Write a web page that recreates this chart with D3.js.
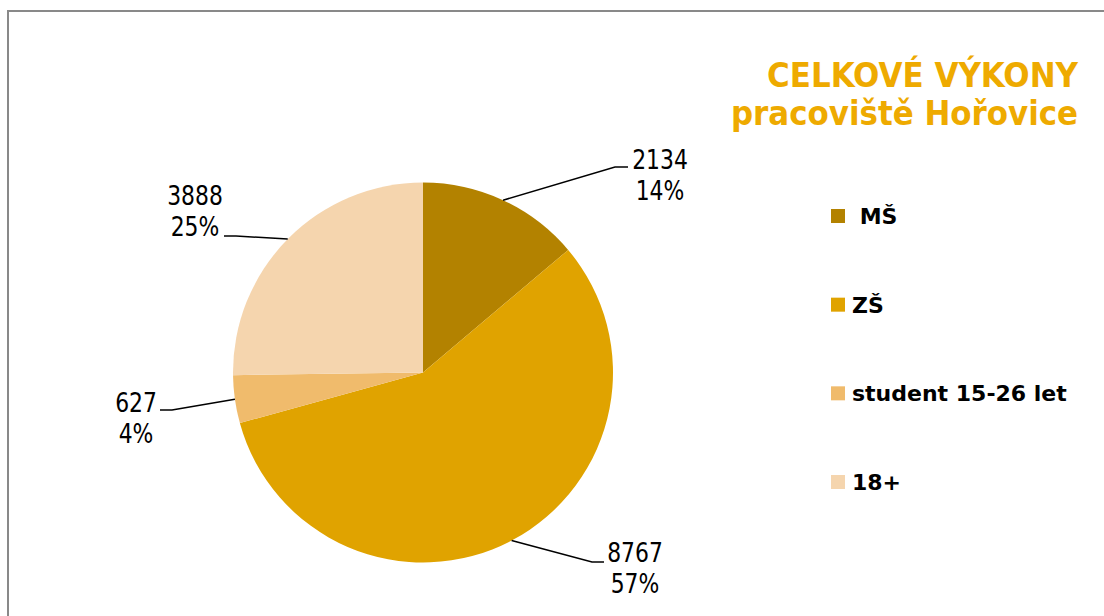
<!DOCTYPE html>
<html><head><meta charset="utf-8">
<script src="https://cdn.jsdelivr.net/npm/d3@7"></script>
<style>
html,body{margin:0;padding:0;background:#fff;overflow:hidden;}
svg{display:block;}
</style></head>
<body>
<svg id="chart" width="1104" height="616"></svg>
<script>
// ---- data ----
const categories = ["MŠ", "ZŠ", "student 15-26 let", "18+"];
const legendLabels = [" MŠ", "ZŠ", "student 15-26 let", "18+"];
const values = [2134, 8767, 627, 3888];
const colors = ["#B38200", "#E0A300", "#F0BB6C", "#F5D5AE"];
const titleLines = ["CELKOVÉ VÝKONY", "pracoviště Hořovice"];

// ---- label layout (elbow, tail, text centre) ----
const labelLayout = [
  {ex:615, ey:167, tx:628, ty:167, cx:660, by:169},
  {ex:592, ey:562, tx:604, ty:562, cx:635, by:562},
  {ex:172, ey:410, tx:160, ty:410, cx:136, by:412},
  {ex:236, ey:236, tx:224, ty:236, cx:195, by:205}
];

const svg = d3.select("#chart");

// frame
svg.append("rect").attr("x", 8).attr("y", 11).attr("width", 1200).attr("height", 700)
  .attr("fill", "none").attr("stroke", "#898989").attr("stroke-width", 2);

const cx = 423, cy = 372.5, R = 190;
const total = d3.sum(values);
const data = categories.map((c, i) => ({cat: c, value: values[i], color: colors[i], i}));

const pie = d3.pie().value(d => d.value).sort(null);
const arcs = pie(data);
const arc = d3.arc().innerRadius(0).outerRadius(R);

const g = svg.append("g").attr("transform", `translate(${cx},${cy})`);
g.selectAll("path.slice").data(arcs).join("path")
  .attr("class", "slice")
  .attr("d", arc)
  .attr("fill", d => d.data.color);

// leader lines and labels
const fmtPct = d3.format(".0%");
arcs.forEach((a, i) => {
  const mid = (a.startAngle + a.endAngle) / 2;
  const sx = cx + R * Math.sin(mid), sy = cy - R * Math.cos(mid);
  const L = labelLayout[i];
  svg.append("polyline")
    .attr("points", `${sx},${sy} ${L.ex},${L.ey} ${L.tx},${L.ty}`)
    .attr("fill", "none").attr("stroke", "#000").attr("stroke-width", 1.5);
  [String(a.data.value), fmtPct(a.data.value / total)].forEach((s, k) => {
    const t = svg.append("text")
      .attr("x", L.cx).attr("y", L.by + k * 31)
      .attr("text-anchor", "middle")
      .attr("font-family", "'DejaVu Sans Condensed', 'DejaVu Sans', sans-serif")
      .attr("font-stretch", "condensed")
      .attr("font-size", 27)
      .attr("fill", "#000")
      .text(s);
    const w = t.node().getComputedTextLength();
    t.attr("textLength", w * 0.9).attr("lengthAdjust", "spacingAndGlyphs");
  });
});

// title
const titleW = [311, 347];
titleLines.forEach((s, i) => {
  svg.append("text")
    .attr("x", 1078).attr("y", 87 + i * 38)
    .attr("text-anchor", "end")
    .attr("font-family", "'DejaVu Sans Condensed', 'DejaVu Sans', sans-serif")
    .attr("font-stretch", "condensed")
    .attr("font-weight", "bold")
    .attr("font-size", 34)
    .attr("fill", "#EEAA00")
    .attr("textLength", titleW[i])
    .attr("lengthAdjust", "spacingAndGlyphs")
    .text(s);
});

// legend
const legend = svg.append("g");
const ly = d3.scalePoint().domain(categories).range([209, 475]);
categories.forEach((c, i) => {
  legend.append("rect").attr("x", 831).attr("y", ly(c)).attr("width", 14).attr("height", 14)
    .attr("fill", colors[i]);
  legend.append("text")
    .attr("x", 852).attr("y", ly(c) + 15)
    .attr("font-family", "'DejaVu Sans', sans-serif")
    .attr("font-weight", "bold")
    .attr("font-size", 22)
    .attr("fill", "#000")
    .attr("xml:space", "preserve")
    .style("white-space", "pre")
    .text(legendLabels[i]);
});
</script>
</body></html>
